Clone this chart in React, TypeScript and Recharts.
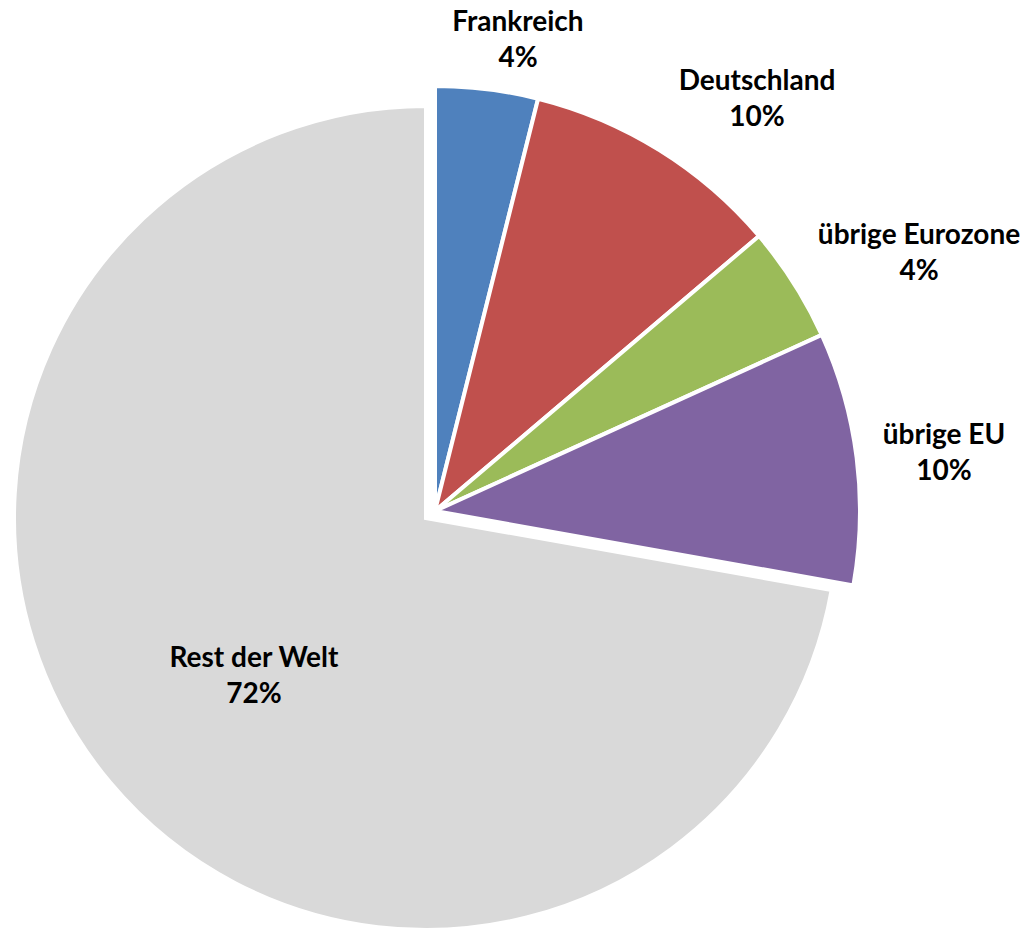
import React from "react";
import { PieChart, Pie, Cell } from "recharts";

// Anteile in Prozent
const SLICE_NAMES = ["Frankreich", "Deutschland", "übrige Eurozone", "übrige EU", "Rest der Welt"];
const SLICE_VALUES = [3.9, 9.9, 4.4, 9.6, 72.2];
const SLICE_COLORS = ["#4F81BD", "#C0504D", "#9BBB59", "#8064A2", "#D9D9D9"];

const REST = "Rest der Welt";

const data = SLICE_NAMES.map((name, i) => ({ name, value: SLICE_VALUES[i] }));

// Lage der Beschriftungen (Mitte, Grundlinie der ersten Zeile)
const labelPos: Record<string, { x: number; y: number }> = {
  Frankreich: { x: 518, y: 31 },
  Deutschland: { x: 757, y: 90 },
  "übrige Eurozone": { x: 919, y: 244 },
  "übrige EU": { x: 944, y: 444 },
  "Rest der Welt": { x: 254, y: 667 },
};

const W = 1031;
const H = 929;

function renderLabel(show: (name: string) => boolean) {
  return (props: any) => {
    const name = props.name ?? props.payload?.name;
    if (!show(name)) return null;
    const pos = labelPos[name];
    if (!pos) return null;
    const pct = Math.round((props.percent ?? 0) * 100);
    return (
      <text
        x={pos.x}
        y={pos.y}
        textAnchor="middle"
        fill="#000"
        fontFamily="Lato, 'Noto Sans', sans-serif"
        fontWeight={700}
        fontSize={28}
      >
        <tspan x={pos.x} y={pos.y}>{name}</tspan>
        <tspan x={pos.x} y={pos.y + 36}>{pct}%</tspan>
      </text>
    );
  };
}

export default function App() {
  return (
    <div style={{ position: "absolute", left: 0, top: 0, width: W, height: H, background: "#fff" }}>
      <PieChart width={W} height={H} margin={{ top: 0, right: 0, bottom: 0, left: 0 }}>
        {/* grosses Stück, nicht herausgezogen */}
        <Pie
          data={data}
          dataKey="value"
          nameKey="name"
          cx={426}
          cy={518}
          outerRadius={412}
          startAngle={90}
          endAngle={-270}
          isAnimationActive={false}
          labelLine={false}
          label={renderLabel((n) => n === REST)}
        >
          {data.map((d, i) => (
            <Cell
              key={d.name}
              fill={d.name === REST ? SLICE_COLORS[i] : "transparent"}
              stroke={d.name === REST ? "#fff" : "none"}
              strokeWidth={4}
            />
          ))}
        </Pie>
        {/* kleine Stücke, gemeinsam herausgezogen */}
        <Pie
          data={data}
          dataKey="value"
          nameKey="name"
          cx={435}
          cy={511}
          outerRadius={425}
          startAngle={90}
          endAngle={-270}
          isAnimationActive={false}
          labelLine={false}
          label={renderLabel((n) => n !== REST)}
        >
          {data.map((d, i) => (
            <Cell
              key={d.name}
              fill={d.name !== REST ? SLICE_COLORS[i] : "transparent"}
              stroke={d.name !== REST ? "#fff" : "none"}
              strokeWidth={4}
            />
          ))}
        </Pie>
      </PieChart>
    </div>
  );
}
